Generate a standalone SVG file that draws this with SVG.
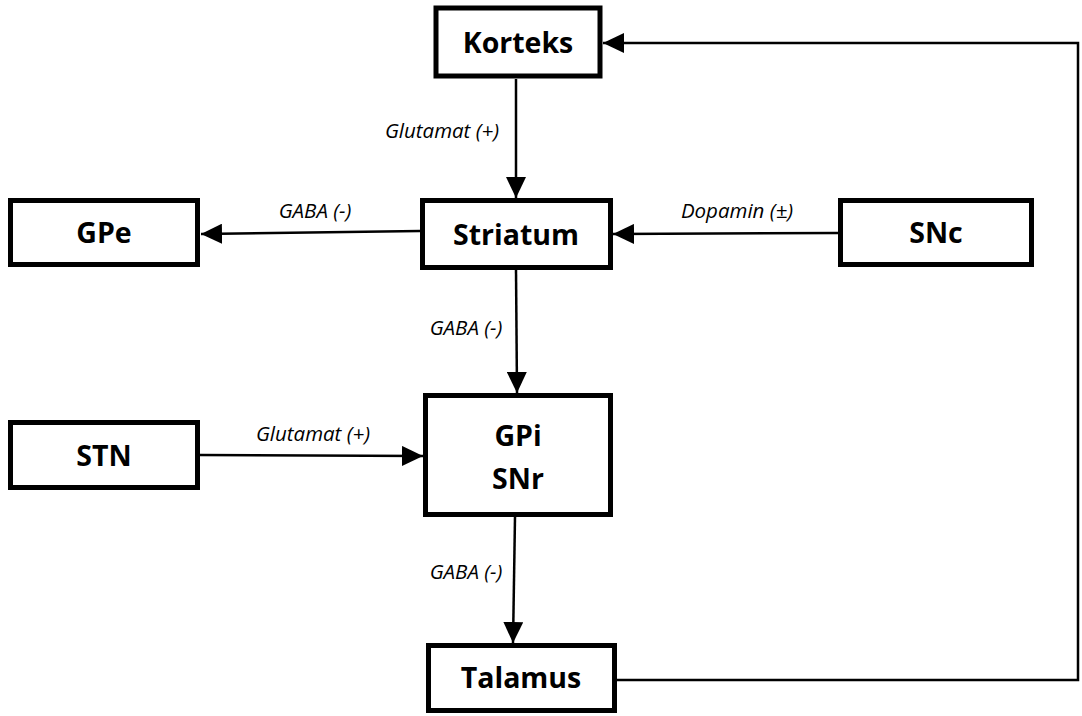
<svg xmlns="http://www.w3.org/2000/svg" width="1082" height="716" viewBox="0 0 1082 716">
<defs>
<marker id="ah" markerUnits="userSpaceOnUse" markerWidth="22" markerHeight="20" refX="21" refY="10" orient="auto">
<path d="M0,0 L21,10 L0,20 Z" fill="#000"/>
</marker>
<style>
.box{fill:#fff;stroke:#000;stroke-width:5}
.nt{font-family:"Open Sans","Noto Sans",sans-serif;font-weight:bold;font-size:28.5px;fill:#000;text-anchor:middle}
.lb{font-family:"Open Sans","Noto Sans",sans-serif;font-style:italic;font-size:20.5px;fill:#000;text-anchor:middle}
.c{fill:none;stroke:#000;stroke-width:2.5;marker-end:url(#ah)}
</style>
</defs>
<rect width="1082" height="716" fill="#fff"/>
<g id="connectors">
<path class="c" d="M516,79 L516,198"/>
<path class="c" d="M420,231 L201,234"/>
<path class="c" d="M838,233 L613,234"/>
<path class="c" d="M516,270 L517,393"/>
<path class="c" d="M200,455 L423,456"/>
<path class="c" d="M515,517 L513,643"/>
<path class="c" d="M617,680 H1078 V43 H603"/>
<text class="lb" x="442" y="138">Glutamat (+)</text>
<text class="lb" x="315" y="218">GABA (-)</text>
<text class="lb" x="737" y="218">Dopamin (±)</text>
<text class="lb" x="466" y="335">GABA (-)</text>
<text class="lb" x="313" y="441">Glutamat (+)</text>
<text class="lb" x="466" y="579">GABA (-)</text>
</g>
<g id="korteks"><rect class="box" x="436" y="8" width="164" height="68"/><text class="nt" x="518" y="53">Korteks</text></g>
<g id="gpe"><rect class="box" x="10.5" y="200.5" width="187" height="64"/><text class="nt" x="104" y="243">GPe</text></g>
<g id="striatum"><rect class="box" x="422.5" y="200.5" width="188" height="67"/><text class="nt" x="516" y="245">Striatum</text></g>
<g id="snc"><rect class="box" x="840.5" y="200.5" width="191" height="64"/><text class="nt" x="936" y="243">SNc</text></g>
<g id="stn"><rect class="box" x="10.5" y="422.5" width="187" height="65"/><text class="nt" x="104" y="466">STN</text></g>
<g id="gpi"><rect class="box" x="425.5" y="395.5" width="185" height="119"/><text class="nt" x="518" y="446">GPi</text><text class="nt" x="518" y="489">SNr</text></g>
<g id="talamus"><rect class="box" x="428.5" y="645.5" width="186" height="65"/><text class="nt" x="521" y="688">Talamus</text></g>
</svg>
